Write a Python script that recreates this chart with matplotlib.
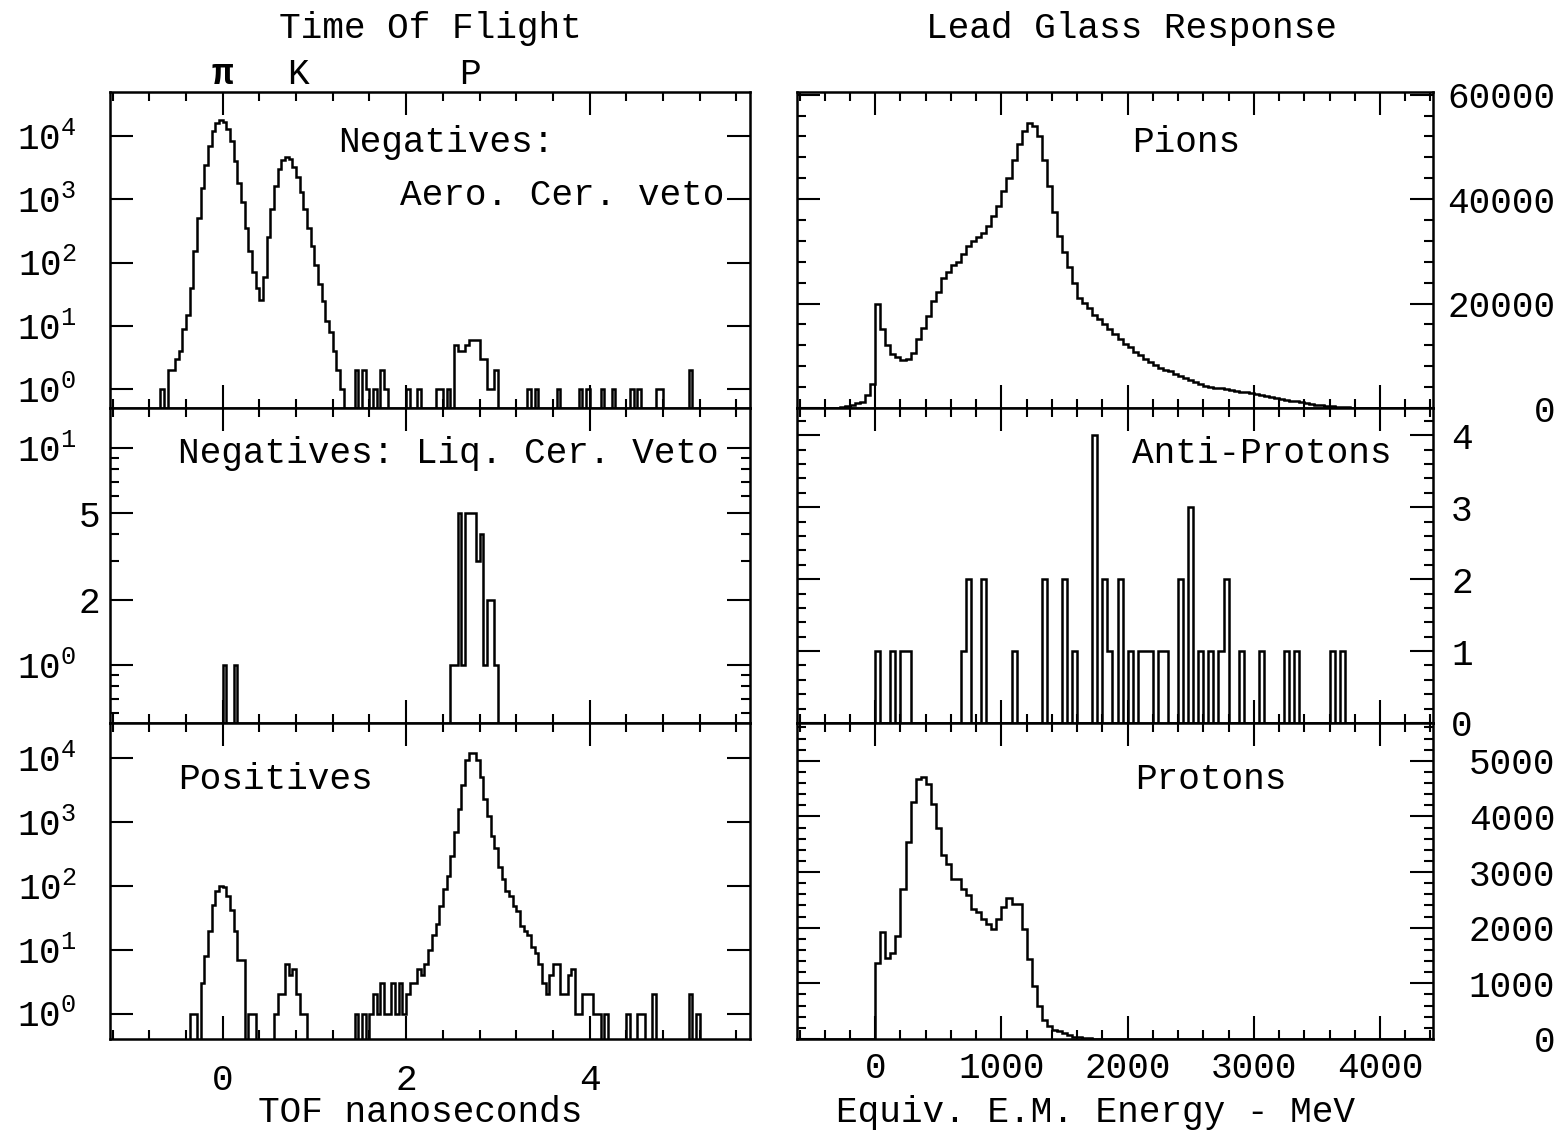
import numpy as np
import matplotlib
matplotlib.use("Agg")
import matplotlib.pyplot as plt
from matplotlib.ticker import MultipleLocator, FixedLocator, NullLocator, NullFormatter

plt.rcParams['font.family'] = ['Liberation Mono', 'DejaVu Sans']
plt.rcParams['mathtext.fontset'] = 'custom'
plt.rcParams['mathtext.rm'] = 'Liberation Mono'

# ---------------- time of flight (ns), 0.04 ns bins ----------------
tof_lo, tof_hi, tof_w = -1.2, 5.8, 0.04

# negatives, aerogel veto: pi and K peaks (contiguous bins from -0.72 ns)
neg_aero_start = -0.72
neg_aero_peaks = [0, 1, 0, 2, 2, 3, 4, 9, 15, 40, 150, 500, 1500, 3500, 7000,
                  12000, 16000, 18000, 17000, 13000, 8500, 4000, 1800, 900, 350,
                  150, 70, 40, 26, 60, 250, 700, 1600, 3000, 4200, 4600, 4300,
                  3300, 2300, 1300, 700, 350, 180, 90, 45, 25, 12, 8, 4, 2, 1]
neg_aero_spike_t = [1.44, 1.52, 1.56, 1.64, 1.72, 1.76, 2.00, 2.12, 2.32, 2.36, 2.44,
                    2.52, 2.56, 2.60, 2.64, 2.68, 2.72, 2.76, 2.80, 2.84, 2.88, 2.92, 2.96,
                    3.32, 3.40, 3.64, 3.88, 3.96, 4.12, 4.24, 4.44, 4.52, 4.72, 4.76, 5.08]
neg_aero_spike_n = [2, 2, 1, 1, 2, 1, 1, 1, 1, 1, 1,
                    5, 4, 4, 5, 6, 6, 6, 3, 3, 1, 1, 2,
                    1, 1, 1, 1, 1, 1, 1, 1, 1, 1, 1, 2]

# negatives, liquid cerenkov veto
neg_liq_t = [0.00, 0.12, 2.48, 2.52, 2.56, 2.60, 2.64, 2.68, 2.72, 2.76, 2.80, 2.84, 2.88, 2.92, 2.96]
neg_liq_n = [1, 1, 1, 1, 5, 1, 5, 5, 5, 3, 4, 1, 2, 2, 1]

# positives
pos_pi_start = -0.36
pos_pi = [1, 1, 0, 3, 8, 20, 50, 85, 100, 95, 70, 42, 20, 7, 7, 0, 1, 1]
pos_k_start = 0.56
pos_k = [1, 2, 2, 6, 4, 5, 2, 1, 1]
pos_p_start = 1.44
pos_p = [1, 0, 1, 0, 1, 2, 1, 3, 1, 1, 3, 1, 3, 1, 2, 3, 3, 5, 4, 6,
         10, 17, 25, 49, 90, 145, 300, 700, 1600, 3800, 9500, 12000, 12000,
         9500, 5200, 2300, 1250, 600, 400, 200, 130, 85, 70, 48, 40, 24, 20,
         17, 11, 9, 6, 3, 2, 4, 6, 6, 2, 2, 4, 5, 1, 1, 2, 2, 2, 1, 1, 0, 1]
pos_spike_t = [4.40, 4.52, 4.56, 4.68, 5.08, 5.16]
pos_spike_n = [1, 1, 1, 2, 2, 1]

tof_ticks = [0, 2, 4]
tof_marks = ['π', 'K', 'P']
tof_mark_t = [0.0, 0.82, 2.70]

# ---------------- lead glass response (MeV), 40 MeV bins ----------------
e_lo, e_hi, e_w = -600, 4400, 40

pion_start = -280
pion = [100, 300, 500, 900, 1200, 2400, 4500, 20000, 15100, 12000, 10400, 9750,
        9250, 9300, 10500, 13200, 15400, 17600, 20400, 22300, 24800, 26000, 27300,
        28000, 29500, 31000, 32000, 32700, 33500, 34900, 36800, 38700, 41500, 44000,
        47500, 50500, 53000, 54500, 54000, 52000, 47500, 42500, 37500, 33000, 29800,
        27000, 24000, 21100, 20100, 19200, 17900, 17000, 16000, 15100, 14200, 13200,
        12300, 11600, 10700, 10100, 9400, 8800, 8200, 7700, 7300, 7000, 6600, 6100,
        5700, 5300, 4900, 4600, 4300, 4100, 3900, 3750, 3600, 3450, 3300, 3150, 3000,
        2850, 2700, 2500, 2300, 2150, 2000, 1800, 1600, 1400, 1250, 1100, 950, 800,
        650, 500, 400, 300, 220, 160, 110, 80, 50, 30, 20]

pbar_e = [0, 120, 200, 240, 680, 720, 840, 1080, 1320, 1480, 1560, 1720, 1800, 1840,
          1920, 2000, 2080, 2120, 2160, 2240, 2280, 2400, 2480, 2560, 2640, 2720, 2760,
          2880, 3040, 3240, 3320, 3600, 3680]
pbar_n = [1, 1, 1, 1, 1, 2, 2, 1, 2, 2, 1, 4, 2, 1,
          2, 1, 1, 1, 1, 1, 1, 2, 3, 1, 1, 1, 2,
          1, 1, 1, 1, 1, 1]

prot_start = 0
prot = [1370, 1925, 1450, 1550, 1850, 2700, 3540, 4260, 4680, 4710, 4590, 4230,
        3800, 3300, 3150, 2880, 2880, 2700, 2580, 2340, 2280, 2160, 2070, 1980,
        2160, 2380, 2540, 2430, 2430, 1980, 1430, 950, 590, 350, 230, 170, 140,
        100, 80, 40, 30, 20, 10]

e_ticks = [0, 1000, 2000, 3000, 4000]


def fill(n_bins, lo, w, segments):
    counts = np.zeros(n_bins)
    for start, vals in segments:
        i = int(round((start - lo) / w))
        counts[i:i + len(vals)] = vals
    return counts


tof_edges = np.linspace(tof_lo, tof_hi, int(round((tof_hi - tof_lo) / tof_w)) + 1)
e_edges = np.arange(e_lo, e_hi + 1, e_w)
nt = len(tof_edges) - 1
ne = len(e_edges) - 1

h_neg_aero = fill(nt, tof_lo, tof_w, [(neg_aero_start, neg_aero_peaks)] +
                  [(t, [n]) for t, n in zip(neg_aero_spike_t, neg_aero_spike_n)])
h_neg_liq = fill(nt, tof_lo, tof_w, [(t, [n]) for t, n in zip(neg_liq_t, neg_liq_n)])
h_pos = fill(nt, tof_lo, tof_w, [(pos_pi_start, pos_pi), (pos_k_start, pos_k), (pos_p_start, pos_p)] +
             [(t, [n]) for t, n in zip(pos_spike_t, pos_spike_n)])
h_pion = fill(ne, e_lo, e_w, [(pion_start, pion)])
h_pbar = fill(ne, e_lo, e_w, [(e, [n]) for e, n in zip(pbar_e, pbar_n)])
h_prot = fill(ne, e_lo, e_w, [(prot_start, prot)])

FS = 26
W, H = 1561, 1135
fig = plt.figure(figsize=(W / 100, H / 100), dpi=100)
fig.patch.set_facecolor('white')

rows = [(92, 408), (408, 723), (723, 1039)]


def make_ax(x0, x1, row):
    top, bot = row
    return fig.add_axes([x0 / W, 1 - bot / H, (x1 - x0) / W, (bot - top) / H])


def style(ax):
    for s in ax.spines.values():
        s.set_linewidth(1.8)
    ax.tick_params(which='both', direction='in', top=True, bottom=True,
                   left=True, right=True, width=1.5, labelsize=FS)
    ax.tick_params(which='major', length=16.5)
    ax.tick_params(which='minor', length=6.5)


def draw(ax, edges, counts, floor):
    ax.stairs(np.maximum(counts, floor), edges, baseline=floor, color='black', lw=1.8)


def dec(k):
    return r'$\mathregular{10^{%d}}$' % k


left_axes = [make_ax(110, 750, r) for r in rows]
right_axes = [make_ax(797, 1433, r) for r in rows]

# ---- left column: TOF ----
for ax, h, ylim in zip(left_axes, [h_neg_aero, h_neg_liq, h_pos],
                       [(0.5, 5e4), (0.54, 15.3), (0.4, 3.6e4)]):
    ax.set_yscale('log')
    draw(ax, tof_edges, h, 1e-3)
    ax.set_xlim(-1.23, 5.75)
    ax.set_ylim(*ylim)
    style(ax)
    ax.xaxis.set_major_locator(FixedLocator(tof_ticks))
    ax.xaxis.set_minor_locator(MultipleLocator(0.4))
    ax.yaxis.set_minor_formatter(NullFormatter())

for ax in (left_axes[0], left_axes[2]):
    ax.set_yticks([1, 10, 100, 1000, 10000], labels=[dec(k) for k in range(5)])
    ax.yaxis.set_minor_locator(NullLocator())
    ax.tick_params(axis='y', pad=24)

mid = left_axes[1]
mid.set_yticks([1, 2, 5, 10], labels=[dec(0), '2', '5', dec(1)])
mid.yaxis.set_minor_locator(FixedLocator([0.6, 0.7, 0.8, 0.9, 3, 4, 6, 7, 8, 9]))
for tk, p in zip(mid.yaxis.get_major_ticks(), [24, 7, 7, 24]):
    tk.set_pad(p)

for ax in left_axes[:2]:
    ax.tick_params(axis='x', labelbottom=False)
left_axes[2].set_xticks(tof_ticks, labels=[str(t) for t in tof_ticks])
left_axes[2].tick_params(axis='x', pad=17)

for t, m in zip(tof_mark_t, tof_marks):
    left_axes[0].text(t, 1.0, m, transform=left_axes[0].get_xaxis_transform(),
                      ha='center', va='bottom', fontsize=FS,
                      fontweight='bold' if m == 'π' else 'normal')

# ---- right column: lead glass ----
for ax, h in zip(right_axes, [h_pion, h_pbar, h_prot]):
    draw(ax, e_edges, h, 0)
    ax.set_xlim(-620, 4420)
    style(ax)
    ax.xaxis.set_major_locator(FixedLocator(e_ticks))
    ax.xaxis.set_minor_locator(MultipleLocator(200))
    ax.tick_params(axis='y', labelleft=False, labelright=True)

right_axes[0].set_ylim(0, 60500)
right_axes[0].set_yticks([0, 20000, 40000, 60000], labels=['0', '20000', '40000', '60000'])
right_axes[0].yaxis.set_minor_locator(MultipleLocator(4000))

right_axes[1].set_ylim(0, 4.38)
right_axes[1].set_yticks([0, 1, 2, 3, 4], labels=['0', '1', '2', '3', '4'])
right_axes[1].yaxis.set_minor_locator(MultipleLocator(0.2))
right_axes[1].tick_params(axis='y', pad=13)

right_axes[2].set_ylim(0, 5680)
right_axes[2].set_yticks([0, 1000, 2000, 3000, 4000, 5000],
                         labels=['0', '1000', '2000', '3000', '4000', '5000'])
right_axes[2].yaxis.set_minor_locator(MultipleLocator(200))

for ax in (right_axes[0], right_axes[2]):
    ax.tick_params(axis='y', pad=88)
    for tk in ax.yaxis.get_major_ticks():
        tk.label2.set_horizontalalignment('right')

for ax in right_axes[:2]:
    ax.tick_params(axis='x', labelbottom=False)
right_axes[2].set_xticks(e_ticks, labels=[str(e) for e in e_ticks])
right_axes[2].tick_params(axis='x', pad=9)

# ---- panel captions ----
left_axes[0].text(0.356, 0.839, 'Negatives:', transform=left_axes[0].transAxes, fontsize=FS, va='center')
left_axes[0].text(0.453, 0.674, 'Aero. Cer. veto', transform=left_axes[0].transAxes, fontsize=FS, va='center')
left_axes[1].text(0.106, 0.857, 'Negatives: Liq. Cer. Veto', transform=left_axes[1].transAxes, fontsize=FS, va='center')
left_axes[2].text(0.106, 0.82, 'Positives', transform=left_axes[2].transAxes, fontsize=FS, va='center')
right_axes[0].text(0.527, 0.839, 'Pions', transform=right_axes[0].transAxes, fontsize=FS, va='center')
right_axes[1].text(0.527, 0.857, 'Anti-Protons', transform=right_axes[1].transAxes, fontsize=FS, va='center')
right_axes[2].text(0.531, 0.82, 'Protons', transform=right_axes[2].transAxes, fontsize=FS, va='center')

fig.text(430 / W, 1 - 28 / H, 'Time Of Flight', ha='center', va='center', fontsize=FS)
fig.text(1131 / W, 1 - 28 / H, 'Lead Glass Response', ha='center', va='center', fontsize=FS)
fig.text(420 / W, 1 - 1113 / H, 'TOF nanoseconds', ha='center', va='center', fontsize=FS)
fig.text(1096 / W, 1 - 1113 / H, 'Equiv. E.M. Energy - MeV', ha='center', va='center', fontsize=FS)

fig.savefig('out.png', dpi=100)
